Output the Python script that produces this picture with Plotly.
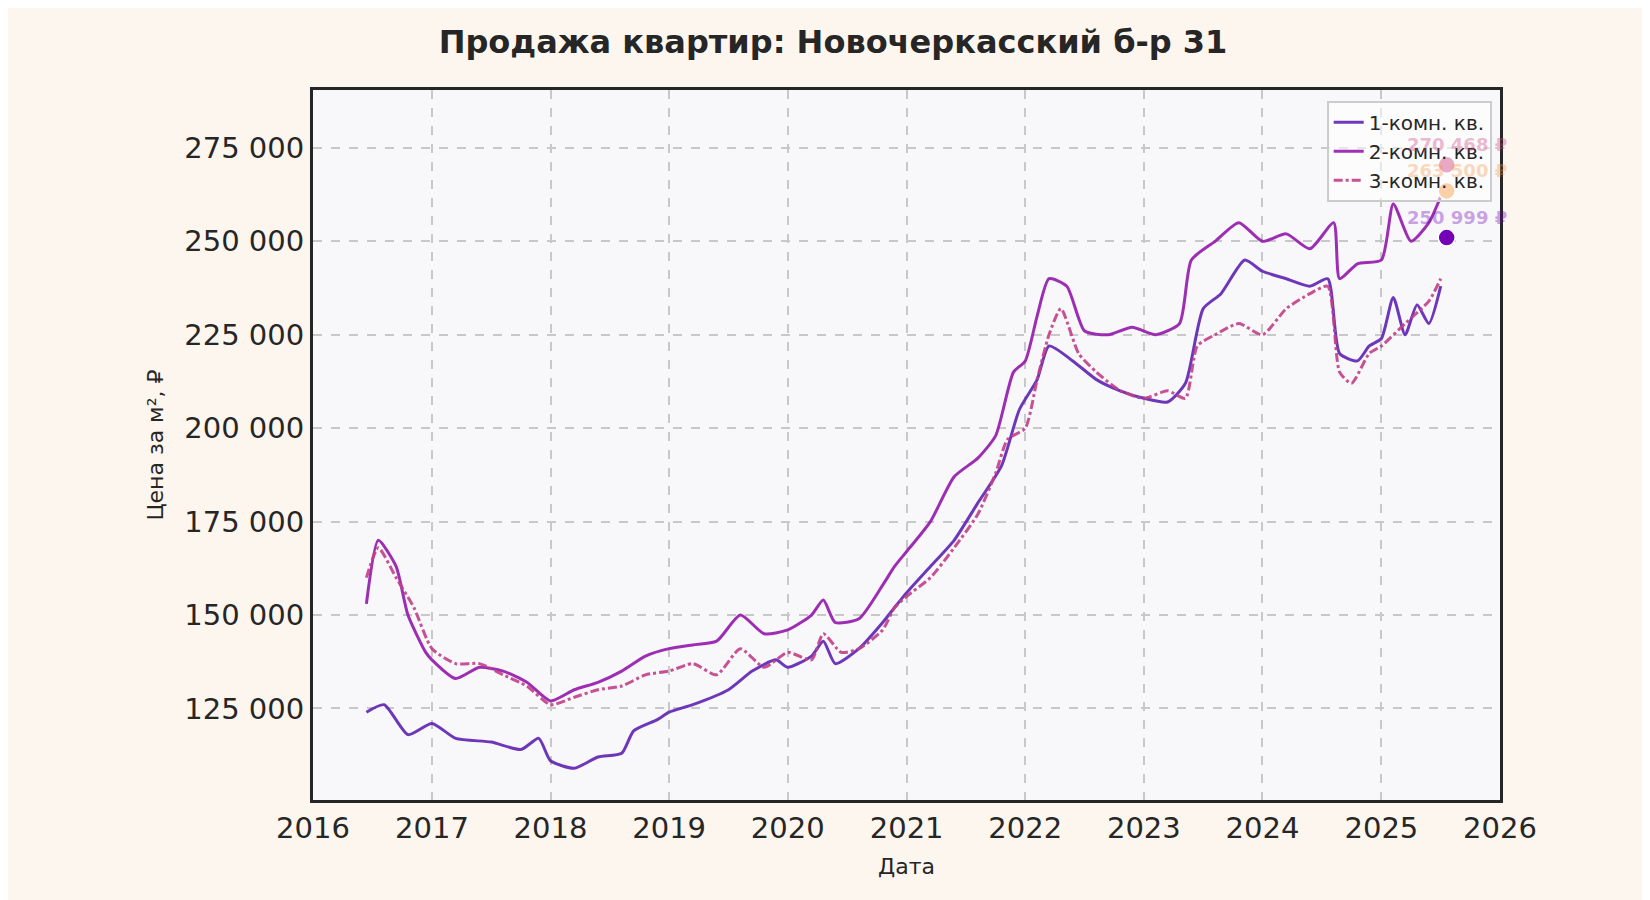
import plotly.graph_objects as go
import pandas as pd

def to_dates(years):
    out = []
    for y in years:
        yr = int(y)
        start = pd.Timestamp(year=yr, month=1, day=1)
        out.append(start + pd.Timedelta(days=(y - yr) * 365.25))
    return out

# 1-комн
x1 = [2016.45, 2016.6, 2016.8, 2017.0, 2017.2, 2017.5, 2017.75, 2017.9, 2018.0, 2018.2, 2018.4, 2018.6,
      2018.7, 2018.9, 2019.0, 2019.2, 2019.5, 2019.7, 2019.9, 2020.0, 2020.2, 2020.3, 2020.4, 2020.6,
      2020.8, 2020.9, 2021.0, 2021.2, 2021.4, 2021.6, 2021.8, 2021.95, 2022.1, 2022.2, 2022.4, 2022.6,
      2022.8, 2023.0, 2023.2, 2023.35, 2023.5, 2023.65, 2023.85, 2024.0, 2024.2, 2024.4, 2024.55,
      2024.65, 2024.8, 2024.9, 2025.0, 2025.1, 2025.2, 2025.3, 2025.4, 2025.5]
y1 = [124, 126, 118, 121, 117, 116, 114, 117, 111, 109, 112, 113,
      119, 122, 124, 126, 130, 135, 138, 136, 139, 143, 137, 141,
      148, 152, 156, 163, 170, 180, 190, 205, 213, 222, 218, 213,
      210, 208, 207, 212, 232, 236, 245, 242, 240, 238, 240,
      220, 218, 222, 224, 235, 225, 233, 228, 238]

# 2-комн
x2 = [2016.45, 2016.55, 2016.7, 2016.8, 2016.95, 2017.0, 2017.2, 2017.4, 2017.6, 2017.8, 2018.0, 2018.2,
      2018.4, 2018.6, 2018.8, 2019.0, 2019.2, 2019.4, 2019.6, 2019.8, 2020.0, 2020.2, 2020.3, 2020.4,
      2020.6, 2020.8, 2020.9, 2021.0, 2021.2, 2021.4, 2021.6, 2021.75, 2021.9, 2022.0, 2022.1, 2022.2,
      2022.35, 2022.5, 2022.7, 2022.9, 2023.1, 2023.3, 2023.4, 2023.6, 2023.8, 2024.0, 2024.2, 2024.4,
      2024.6, 2024.65, 2024.8, 2025.0, 2025.1, 2025.25, 2025.4, 2025.5]
y2 = [153, 170, 163, 150, 140, 138, 133, 136, 135, 132, 127, 130,
      132, 135, 139, 141, 142, 143, 150, 145, 146, 150, 154, 148,
      149, 158, 163, 167, 175, 187, 192, 198, 215, 218, 230, 240,
      238, 226, 225, 227, 225, 228, 245, 250, 255, 250, 252, 248,
      255, 240, 244, 245, 260, 250, 255, 262]

# 3-комн
x3 = [2016.45, 2016.55, 2016.7, 2016.85, 2017.0, 2017.2, 2017.4, 2017.6, 2017.8, 2018.0, 2018.2, 2018.4,
      2018.6, 2018.8, 2019.0, 2019.2, 2019.4, 2019.6, 2019.8, 2020.0, 2020.2, 2020.3, 2020.45, 2020.6,
      2020.8, 2020.9, 2021.0, 2021.2, 2021.4, 2021.6, 2021.75, 2021.85, 2022.0, 2022.1, 2022.2, 2022.3,
      2022.45, 2022.6, 2022.8, 2023.0, 2023.2, 2023.35, 2023.45, 2023.6, 2023.8, 2024.0, 2024.2, 2024.4,
      2024.55, 2024.65, 2024.75, 2024.9, 2025.0, 2025.2, 2025.4, 2025.5]
y3 = [160, 168, 160, 152, 141, 137, 137, 134, 131, 126, 128, 130,
      131, 134, 135, 137, 134, 141, 136, 140, 138, 145, 140, 141,
      146, 152, 155, 160, 168, 177, 188, 197, 200, 213, 225, 232,
      220, 215, 210, 208, 210, 208, 222, 225, 228, 225, 232, 236,
      238, 215, 212, 220, 222, 228, 234, 240]

# последние значения
last_x = 2025.55
last_vals = [250999, 270468, 263500]
last_labels = ['250 999 ₽', '270 468 ₽', '263 500 ₽']

names = ['1-комн. кв.', '2-комн. кв.', '3-комн. кв.']
colors = ['#5f23b3', '#9419ad', '#c23f88']
dot_colors = ['#7400b8', '#c9407a', '#f5943f']
dashes = ['solid', 'solid', 'dashdot']

fig = go.Figure()
for xs, ys, name, c, d in zip([x1, x2, x3], [y1, y2, y3], names, colors, dashes):
    fig.add_trace(go.Scatter(
        x=to_dates(xs), y=[v * 1000 for v in ys], name=name, mode='lines',
        line=dict(color=c, width=3, dash=d, shape='spline', smoothing=0.6), opacity=0.9
    ))

for v, lab, c in zip(last_vals, last_labels, dot_colors):
    fig.add_trace(go.Scatter(
        x=to_dates([last_x]), y=[v], mode='markers', showlegend=False,
        marker=dict(color=c, size=17, line=dict(color='white', width=1.5))
    ))
    fig.add_annotation(x=to_dates([last_x])[0], y=v, text=f'<b>{lab}</b>', showarrow=False,
                       yshift=20, xshift=10, font=dict(size=18, color=c), opacity=0.35)

fig.update_layout(
    width=1650, height=900,
    paper_bgcolor='#fdf6ee', plot_bgcolor='#f8f8fa',
    font=dict(family='DejaVu Sans', color='#262626'),
    title=dict(text='<b>Продажа квартир: Новочеркасский б-р 31</b>', x=0.5, y=0.975,
               font=dict(size=32, color='#262626')),
    margin=dict(l=305, r=158, t=82, b=108),
    legend=dict(x=0.993, y=0.985, xanchor='right', yanchor='top', bgcolor='rgba(255,255,255,0.55)',
                bordercolor='#cccccc', borderwidth=2, font=dict(size=20)),
)
fig.update_xaxes(
    title=dict(text='Дата', font=dict(size=22)), tickfont=dict(size=29),
    range=[pd.Timestamp('2016-01-01'), pd.Timestamp('2026-01-01')], dtick='M12', tickformat='%Y',
    showgrid=True, gridcolor='#c8c8c8', griddash='dash', gridwidth=1.5,
    showline=True, linecolor='#262626', linewidth=3, mirror=True, ticks='', zeroline=False
)
fig.update_yaxes(
    title=dict(text='Цена за м², ₽', font=dict(size=22)), tickfont=dict(size=29),
    range=[100500, 290500], tickvals=[125000, 150000, 175000, 200000, 225000, 250000, 275000],
    ticktext=['125 000', '150 000', '175 000', '200 000', '225 000', '250 000', '275 000'],
    showgrid=True, gridcolor='#c8c8c8', griddash='dash', gridwidth=1.5,
    showline=True, linecolor='#262626', linewidth=3, mirror=True, ticks='', zeroline=False
)

fig.write_html('out.html')
